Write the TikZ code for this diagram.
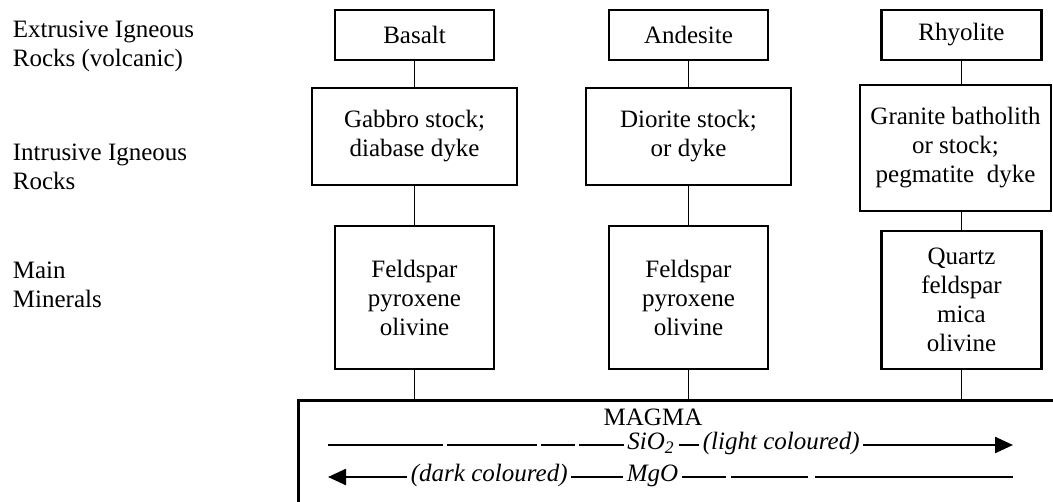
\documentclass[tikz,border=0pt]{standalone}
\usepackage{fontspec}
\setmainfont{Liberation Serif}
\usetikzlibrary{arrows.meta}
\begin{document}
\begin{tikzpicture}[x=0.5pt, y=-0.5pt, line width=0.9pt,
  every node/.style={font=\fontsize{12.5}{14.5}\selectfont},
  rock node/.style={draw, rectangle, line width=1.3pt, inner sep=2pt, align=center},
  side node/.style={anchor=north west, inner sep=0pt, align=left},
  flow text/.style={inner sep=1.5pt, font=\fontsize{12.5}{14.5}\selectfont\itshape},
  flow line/.style={line width=1.2pt},
  flow tip/.style={-{Triangle[length=9pt,width=8pt]}}]
\path[use as bounding box] (0,0) rectangle (1053,502);
\clip (0,0) rectangle (1053,502);
% row labels
\node [side node](extr) at (12,20) {Extrusive Igneous\\Rocks (volcanic)};
\node [side node](intr) at (12,143) {Intrusive Igneous\\Rocks};
\node [side node](minr) at (12,261) {Main\\Minerals};
% rocks
\begin{scope}[every node/.append style={rock node}]
\node [minimum width=79.5pt, minimum height=25pt](basalt) at (414.5,35) {Basalt};
\node [minimum width=79.5pt, minimum height=25pt](andesite) at (688.5,35) {Andesite};
\node [minimum width=80pt, minimum height=25pt](rhyolite) at (961.5,35) {Rhyolite};
\node [minimum width=102.5pt, minimum height=48.5pt](gabbro) at (414.5,136.5) {Gabbro stock;\\diabase dyke};
\node [minimum width=102.5pt, minimum height=48.5pt](diorite) at (688.5,136.5) {Diorite stock;\\or dyke};
\node [minimum width=95.5pt, minimum height=63pt](granite) at (955.5,148) {Granite batholith\\or stock;\\pegmatite~~dyke};
\node [minimum width=79.5pt, minimum height=71.5pt](feld1) at (414.5,297.5) {Feldspar\\pyroxene\\olivine};
\node [minimum width=79.5pt, minimum height=71.5pt](feld2) at (688.5,297.5) {Feldspar\\pyroxene\\olivine};
\node [minimum width=80pt, minimum height=69pt](quartz) at (961.5,300) {Quartz\\feldspar\\mica\\olivine};
\node [anchor=north west, minimum width=400pt, minimum height=80pt](magma) at (297,399) {};
\end{scope}
\node [anchor=base](magmatext) at (653,425) {MAGMA};
\path
	(basalt) edge (gabbro)
	(gabbro) edge (feld1)
	(feld1) edge (feld1 |- magma.north)
	(andesite) edge (diorite)
	(diorite) edge (feld2)
	(feld2) edge (feld2 |- magma.north)
	(rhyolite) edge (rhyolite |- granite.north)
	(granite.south -| quartz) edge (quartz)
	(quartz) edge (quartz |- magma.north)
	;
% silica and magnesia
\coordinate (sistart) at (328,445);
\coordinate (sitip) at (1013,445);
\coordinate (mgtip) at (328,477);
\coordinate (mgend) at (1013,477);
\node [flow text, anchor=mid](sio) at (651,445) {SiO\textsubscript{2}};
\node [flow text, anchor=mid west](light) at (699,445) {(light coloured)};
\node [flow text, anchor=mid west](dark) at (407,477) {(dark coloured)};
\node [flow text, anchor=mid](mgo) at (652.5,477) {MgO};
\draw [flow line, dash pattern=on 57.5pt off 2pt on 45pt off 2pt on 17pt off 2pt on 22pt off 0pt] (sistart) -- (sio.mid west);
\draw [flow line] (sio.mid east) -- (light.mid west);
\draw [flow line, flow tip] (light.mid east) -- (sitip);
\draw [flow line, flow tip] (dark.mid west) -- (mgtip);
\draw [flow line] (dark.mid east) -- (mgo.mid west);
\draw [flow line, dash pattern=on 22pt off 2.5pt on 38.5pt off 3.5pt on 100pt off 0pt] (mgo.mid east) -- (mgend);
\end{tikzpicture}
\end{document}
